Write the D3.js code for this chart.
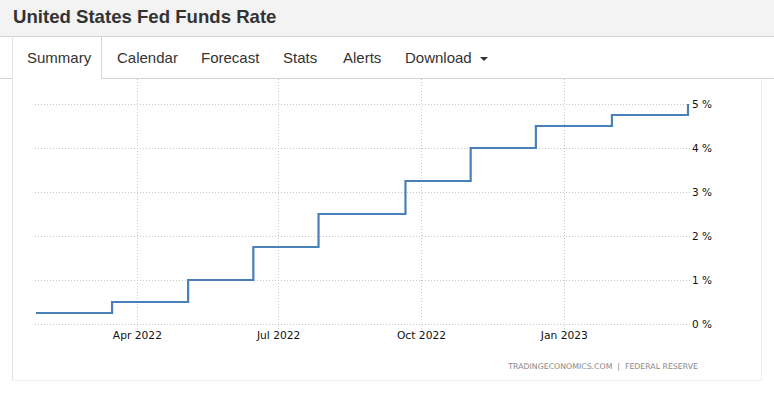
<!DOCTYPE html>
<html>
<head>
<meta charset="utf-8">
<script src="https://cdn.jsdelivr.net/npm/d3@7"></script>
<style>
html,body{margin:0;padding:0;background:#fff;}
svg{display:block;}
</style>
</head>
<body>
<svg id="c" width="774" height="393"></svg>
<script>
const titleText = "United States Fed Funds Rate";
const tabs = ["Summary", "Calendar", "Forecast", "Stats", "Alerts", "Download"];
const tabX = [27, 117, 201, 283, 343, 405];
const dates = ["2022-01-26","2022-03-16","2022-05-04","2022-06-15","2022-07-27","2022-09-21","2022-11-02","2022-12-14","2023-02-01","2023-03-22"];
const rates = [0.25, 0.5, 1.0, 1.75, 2.5, 3.25, 4.0, 4.5, 4.75, 5.0];
const yTicks = [0, 1, 2, 3, 4, 5];
const xTicks = ["2022-04-01","2022-07-01","2022-10-01","2023-01-01"];
const sourceText = "TRADINGECONOMICS.COM  |  FEDERAL RESERVE";

const parse = d3.utcParse("%Y-%m-%d");
const data = dates.map((d,i)=>({date: parse(d), value: rates[i]}));
const svg = d3.select("#c");

// title bar
svg.append("rect").attr("x",0).attr("y",0).attr("width",774).attr("height",36).attr("fill","#f3f3f3");
svg.append("line").attr("x1",0).attr("x2",774).attr("y1",36.5).attr("y2",36.5).attr("stroke","#d4d4d4");
svg.append("text").attr("x",13).attr("y",23).attr("font-family","Liberation Sans, Arial, sans-serif")
  .attr("font-weight","bold").attr("font-size",18.6).attr("fill","#333").text(titleText);

// tabs
svg.append("line").attr("x1",0).attr("x2",12.5).attr("y1",78.5).attr("y2",78.5).attr("stroke","#d4d4d4");
svg.append("line").attr("x1",101.5).attr("x2",774).attr("y1",78.5).attr("y2",78.5).attr("stroke","#d4d4d4");
svg.append("line").attr("x1",12.5).attr("x2",12.5).attr("y1",36).attr("y2",381).attr("stroke","#e4e4e4");
svg.append("line").attr("x1",101.5).attr("x2",101.5).attr("y1",36).attr("y2",79).attr("stroke","#d4d4d4");
svg.append("line").attr("x1",761.5).attr("x2",761.5).attr("y1",79).attr("y2",381).attr("stroke","#eeeeee");
svg.append("line").attr("x1",12.5).attr("x2",761.5).attr("y1",380.5).attr("y2",380.5).attr("stroke","#eeeeee");
svg.selectAll("text.tab").data(tabs).join("text").attr("class","tab")
  .attr("x",(d,i)=>tabX[i]).attr("y",63).attr("font-family","Liberation Sans, Arial, sans-serif")
  .attr("font-size",15).attr("fill","#333").text(d=>d);
svg.append("path").attr("d","M480,57 L488,57 L484,61 Z").attr("fill","#333");

// chart
const x = d3.scaleUtc().domain([data[0].date, data[data.length-1].date]).range([36, 688]);
const y = d3.scaleLinear().domain([0,5]).range([324, 104]);

const g = svg.append("g");
// vertical grid
g.selectAll("line.vg").data(xTicks.map(parse)).join("line").attr("class","vg")
  .attr("x1",d=>Math.round(x(d))+0.5).attr("x2",d=>Math.round(x(d))+0.5).attr("y1",79).attr("y2",330)
  .attr("stroke","#c8c8c8").attr("stroke-dasharray","1,2");
// horizontal grid
g.selectAll("line.hg").data(yTicks).join("line").attr("class","hg")
  .attr("x1",35).attr("x2",690).attr("y1",d=>Math.round(y(d))+0.5).attr("y2",d=>Math.round(y(d))+0.5)
  .attr("stroke","#c8c8c8").attr("stroke-dasharray","1,2");

// axes labels
const yAxis = d3.axisRight(y).tickValues(yTicks).tickSize(0).tickPadding(0).tickFormat(d=>d+" %");
const ya = svg.append("g").attr("transform","translate(692,0)").call(yAxis);
ya.select(".domain").remove();
ya.selectAll("text").attr("font-family","DejaVu Sans, sans-serif").attr("font-size",10.5).attr("fill","#111");

const xAxis = d3.axisBottom(x).tickValues(xTicks.map(parse)).tickSize(0).tickPadding(0).tickFormat(d3.utcFormat("%b %Y"));
const xa = svg.append("g").attr("transform","translate(0,331.5)").call(xAxis);
xa.select(".domain").remove();
xa.selectAll("text").attr("font-family","DejaVu Sans, sans-serif").attr("font-size",10.7).attr("fill","#111");

// line
const line = d3.line().x(d=>x(d.date)).y(d=>y(d.value)).curve(d3.curveStepAfter);
svg.append("path").datum(data).attr("d",line).attr("fill","none").attr("stroke","#4a80b8").attr("stroke-width",2.2);

// source
svg.append("text").attr("x",698).attr("y",369).attr("text-anchor","end").attr("font-family","DejaVu Sans, sans-serif")
  .attr("font-size",7.8).attr("fill","#888").attr("xml:space","preserve").text(sourceText);
</script>
</body>
</html>
